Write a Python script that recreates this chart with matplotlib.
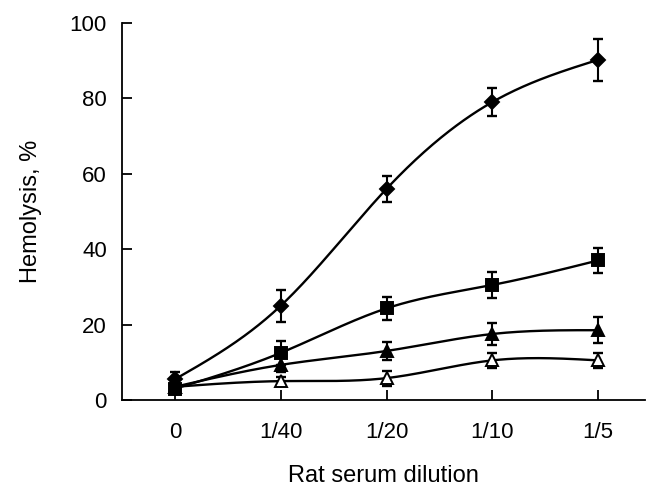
import numpy as np
import matplotlib
matplotlib.use("Agg")
import matplotlib.pyplot as plt

plt.rcParams['font.family'] = ['Liberation Sans', 'DejaVu Sans']

categories = ["0", "1/40", "1/20", "1/10", "1/5"]
diamond = [5.5, 25.0, 56.0, 79.0, 90.2]
diamond_err = [2.0, 4.2, 3.5, 3.8, 5.6]
square = [3.0, 12.5, 24.3, 30.5, 37.0]
square_err = [1.5, 3.2, 3.0, 3.5, 3.4]
tri_filled = [3.5, 9.3, 13.0, 17.5, 18.5]
tri_filled_err = [1.5, 2.0, 2.5, 2.8, 3.5]
tri_open = [3.5, 5.0, 5.8, 10.5, 10.5]
tri_open_err = [1.0, 1.2, 2.0, 2.0, 2.0]


def natural_spline(x, y, n=300):
    x = np.asarray(x, float)
    y = np.asarray(y, float)
    m = len(x)
    h = np.diff(x)
    A = np.zeros((m, m))
    b = np.zeros(m)
    A[0, 0] = 1
    A[-1, -1] = 1
    for i in range(1, m - 1):
        A[i, i - 1] = h[i - 1]
        A[i, i] = 2 * (h[i - 1] + h[i])
        A[i, i + 1] = h[i]
        b[i] = 3 * ((y[i + 1] - y[i]) / h[i] - (y[i] - y[i - 1]) / h[i - 1])
    c = np.linalg.solve(A, b)
    xs = np.linspace(x[0], x[-1], n)
    ys = np.empty_like(xs)
    for k, xv in enumerate(xs):
        i = min(np.searchsorted(x, xv, side='right') - 1, m - 2)
        dx = xv - x[i]
        bi = (y[i + 1] - y[i]) / h[i] - h[i] * (2 * c[i] + c[i + 1]) / 3
        di = (c[i + 1] - c[i]) / (3 * h[i])
        ys[k] = y[i] + bi * dx + c[i] * dx ** 2 + di * dx ** 3
    return xs, ys


fig = plt.figure(figsize=(6.46, 4.86), dpi=100)
ax = fig.add_axes([0.189, 0.177, 0.809, 0.776])

x = np.arange(len(categories))
series = [
    (tri_open, tri_open_err, '^', 'white', 9),
    (tri_filled, tri_filled_err, '^', 'black', 9),
    (square, square_err, 's', 'black', 9),
    (diamond, diamond_err, 'D', 'black', 7.5),
]
for vals, errs, mk, fc, ms in series:
    xs, ys = natural_spline(x, vals)
    ax.plot(xs, ys, color='black', lw=1.7, zorder=2)
    ax.errorbar(x, vals, yerr=errs, fmt='none', ecolor='black', elinewidth=1.5,
                capsize=3.8, capthick=1.7, zorder=3)
    ax.plot(x, vals, linestyle='none', marker=mk, markersize=ms,
            markerfacecolor=fc, markeredgecolor='black', markeredgewidth=1.4, zorder=4)

ax.set_xlim(-0.5, 4.44)
ax.set_ylim(0, 100)
ax.set_xticks(x)
ax.set_xticklabels(categories)
ax.set_yticks([0, 20, 40, 60, 80, 100])
ax.tick_params(axis='both', direction='in', length=7, width=1.3, labelsize=16)
ax.tick_params(axis='x', pad=16)
ax.tick_params(axis='y', pad=11)
for s in ['top', 'right']:
    ax.spines[s].set_visible(False)
for s in ['left', 'bottom']:
    ax.spines[s].set_linewidth(1.3)

ax.set_xlabel("Rat serum dilution", fontsize=17, labelpad=16)
ax.set_ylabel("Hemolysis, %", fontsize=17, labelpad=20)

fig.savefig("out.png", dpi=100)
